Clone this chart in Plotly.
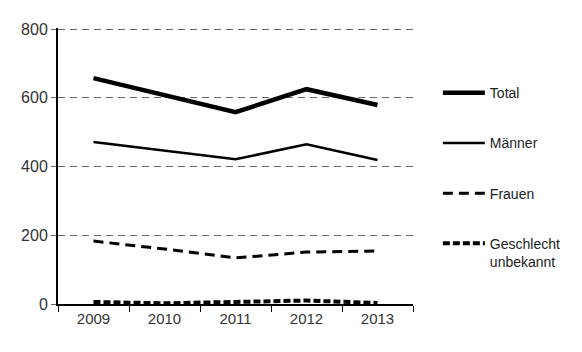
import plotly.graph_objects as go

years = ["2009", "2010", "2011", "2012", "2013"]
total = [657, 607, 558, 625, 579]
maenner = [471, 446, 421, 465, 419]
frauen = [183, 160, 134, 151, 154]
unbekannt = [6, 2, 6, 10, 3]

series = [
    ("Total", total, 4.5, "solid"),
    ("Männer", maenner, 2.5, "solid"),
    ("Frauen", frauen, 3, "10px,6px"),
    ("Geschlecht<br>unbekannt", unbekannt, 4, "7px,3px"),
]

fig = go.Figure()
for i, (name, vals, w, dash) in enumerate(series):
    fig.add_trace(go.Scatter(
        x=years, y=vals, mode="lines", name=name, legendgroup=str(i),
        line=dict(color="black", width=w, dash=dash),
    ))

fig.update_layout(
    width=582, height=352,
    margin=dict(l=58, r=169, t=28, b=48),
    plot_bgcolor="white", paper_bgcolor="white",
    font=dict(family="Liberation Sans, Arial, sans-serif", color="#333333"),
    showlegend=True,
    legend=dict(x=1.07, y=0.822, xanchor="left", yanchor="top",
                font=dict(size=14, color="#222222"), itemwidth=42,
                valign="top",
                tracegroupgap=29, bgcolor="rgba(0,0,0,0)"),
    xaxis=dict(type="category", tickson="boundaries", ticks="outside",
               ticklen=6, tickcolor="black", showline=True, linecolor="black",
               linewidth=2, showgrid=False, tickfont=dict(size=15),
               range=[-0.5, 4.5]),
    yaxis=dict(range=[0, 803], tickvals=[0, 200, 400, 600, 800],
               ticks="outside", ticklen=5, tickcolor="#666666",
               showline=True, linecolor="black", linewidth=2,
               showgrid=True, gridcolor="#666666", griddash="7px,5px",
               gridwidth=1, zeroline=False, tickfont=dict(size=16)),
)

fig.write_html("out.html")
